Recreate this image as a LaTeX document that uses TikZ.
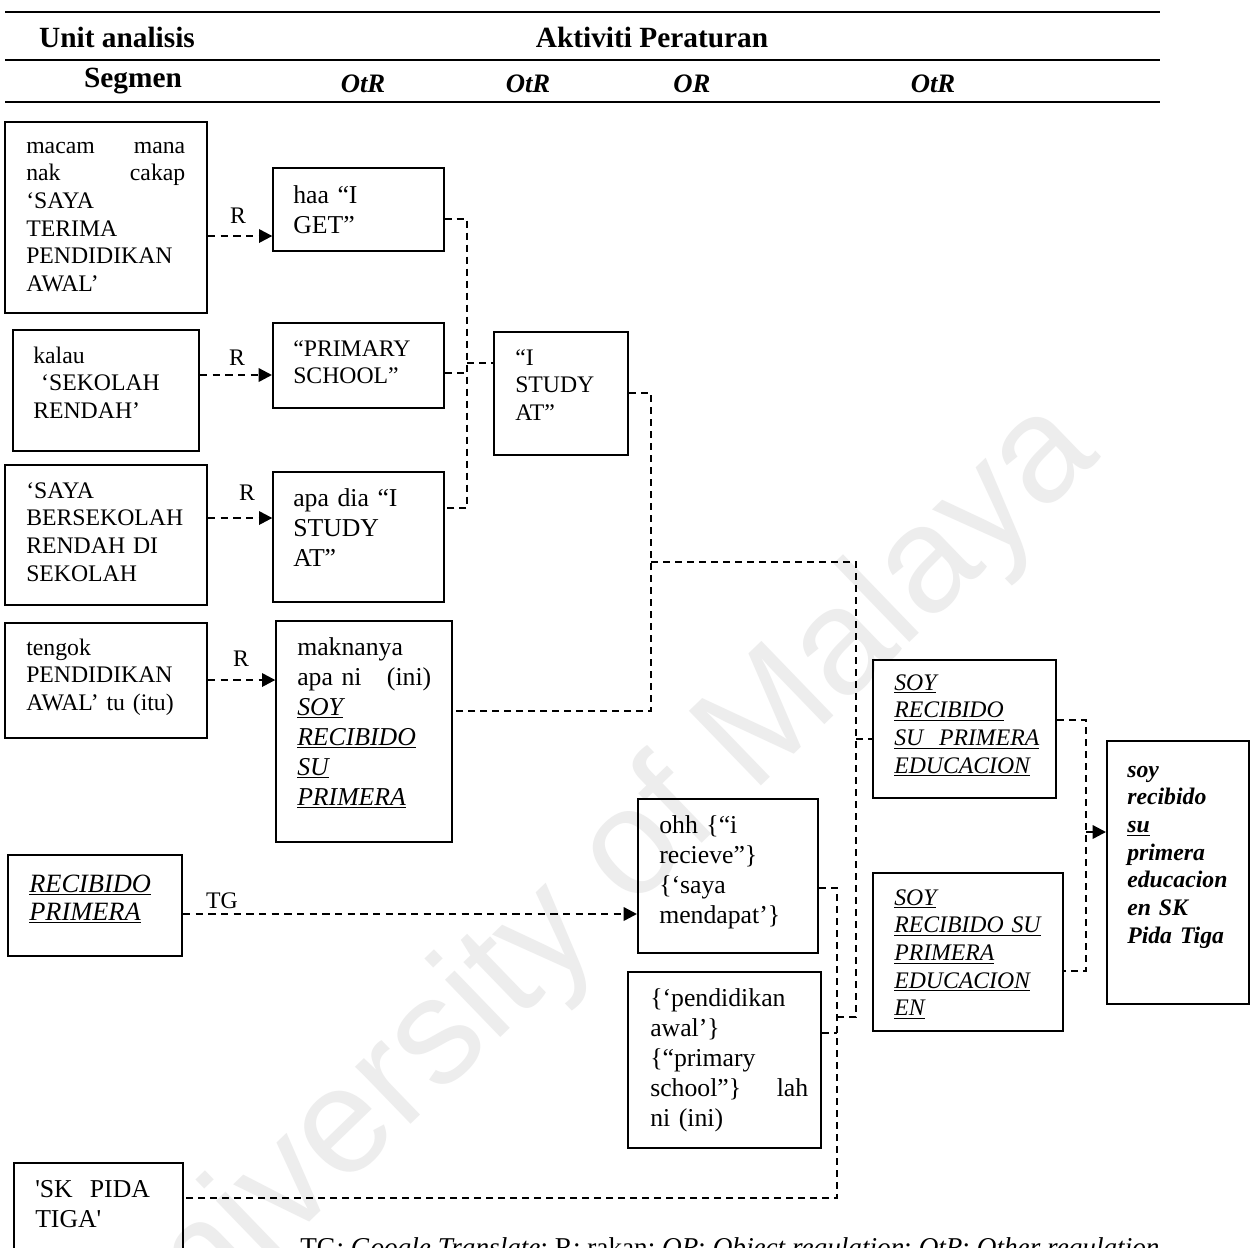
\documentclass[tikz,border=0pt]{standalone}
\usepackage{fontspec}
\setmainfont{Liberation Serif}
\newfontfamily\wmfont{Liberation Sans}
\usetikzlibrary{arrows.meta,calc}

% text sizes
\newcommand\fs{\fontsize{17.8}{20.8}\selectfont}
\newcommand\fsw{\fontsize{19.3}{22.5}\selectfont}
\newcommand\fsh{\fontsize{22}{24}\selectfont\bfseries}
\newcommand\fsc{\fontsize{20}{22}\selectfont\bfseries\itshape}
% underline at a fixed depth below the baseline
\newcommand\uln[1]{\leavevmode\setbox0\hbox{#1}\rlap{\rule[-2.4pt]{\wd0}{0.75pt}}\box0}

\tikzset{
  x=0.75pt, y=-0.75pt,
  boxthick/.style={draw, line width=1.5pt, inner sep=0pt},
  boxthin/.style={draw, line width=1pt, inner sep=0pt},
  txt/.style={inner sep=0pt, anchor=base west, align=left, font=\fs},
  txtw/.style={txt, font=\fsw},
  lbl/.style={inner sep=0pt, anchor=base, font=\fs},
  head/.style={inner sep=0pt, font=\fsh},
  colhead/.style={inner sep=0pt, font=\fsc},
  rule/.style={line width=1.9pt},
  rarrow/.style={line width=1.8pt, dash pattern=on 5.5pt off 4pt,
    -{Triangle[length=10pt,width=10pt]}},
  link/.style={line width=1.2pt, dash pattern=on 5.5pt off 3.5pt},
  tiparrow/.style={line width=1.8pt, -{Triangle[length=10pt,width=10pt]}},
}

% \bx{style}{name}{x1}{y1}{x2}{y2}
\newcommand\bx[6]{%
  \node[#1, minimum width={(#5-#3)*0.75pt}, minimum height={(#6-#4)*0.75pt}]
    (#2) at ({(#3+#5)/2},{(#4+#6)/2}) {};}

\begin{document}
\begin{tikzpicture}
\useasboundingbox[fill=white] (0,0) rectangle (1257,1247);

% repository watermark
\node[rotate=44, text=black!7, font=\wmfont\fontsize{113}{118}\selectfont, inner sep=0pt]
  (wm) at (587,900) {University of Malaya};

% table header
\draw[rule] (5,12) -- (1160,12);
\draw[rule] (5,60) -- (1160,60);
\draw[rule] (5,102) -- (1160,102);
\node[head] (h-unit) at (117,37) {Unit analisis};
\node[head] (h-akt) at (652,37) {Aktiviti Peraturan};
\node[head] (h-seg) at (133,81) {Segmen};
\node[colhead] (h-c1) at (363,84) {OtR};
\node[colhead] (h-c2) at (528,84) {OtR};
\node[colhead] (h-c3) at (692,84) {OR};
\node[colhead] (h-c4) at (933,84) {OtR};

% boxes
\bx{boxthick}{a1}{5}{122}{207}{313}
\bx{boxthick}{a2}{13}{330}{199}{451}
\bx{boxthick}{a3}{5}{465}{207}{605}
\bx{boxthick}{a4}{5}{623}{207}{738}
\bx{boxthin}{b1}{273}{168}{444}{251}
\bx{boxthick}{b2}{273}{323}{444}{408}
\bx{boxthin}{b3}{273}{472}{444}{602}
\bx{boxthin}{b4}{276}{621}{452}{842}
\bx{boxthick}{c}{494}{332}{628}{455}
\bx{boxthick}{d1}{873}{660}{1056}{798}
\bx{boxthick}{d2}{873}{873}{1063}{1031}
\bx{boxthick}{e1}{638}{799}{818}{953}
\bx{boxthick}{e2}{628}{972}{821}{1148}
\bx{boxthick}{f}{8}{855}{182}{956}
\bx{boxthick}{g}{14}{1163}{183}{1275}
\bx{boxthick}{h}{1107}{741}{1249}{1004}

% box texts
\node[txt, text width=119.25pt] (t-a1) at (26,153)
  {macam\hfill mana\\ nak\hfill cakap\\ ‘SAYA\\ TERIMA\\ PENDIDIKAN\\ AWAL’};
\node[txt, text width=130pt] (t-a2) at (33,363)
  {kalau\\ \ ‘SEKOLAH\\ RENDAH’};
\node[txt, text width=140pt] (t-a3) at (26,498)
  {‘SAYA\\ BERSEKOLAH\\ RENDAH DI\\ SEKOLAH};
\node[txt, text width=140pt] (t-a4) at (26,655)
  {tengok\\ PENDIDIKAN\\ AWAL’ tu (itu)};
\node[txtw, text width=120pt] (t-b1) at (293,203) {haa “I\\ GET”};
\node[txt, text width=120pt] (t-b2) at (293,356) {“PRIMARY\\ SCHOOL”};
\node[txtw, text width=120pt] (t-b3) at (293,506) {apa dia “I\\ STUDY\\ AT”};
\node[txtw, text width=100.5pt] (t-b4) at (297,655)
  {maknanya\\ apa ni\hfill (ini)\\ \textit{\uln{SOY}}\\ \textit{\uln{RECIBIDO}}\\
   \textit{\uln{SU}}\\ \textit{\uln{PRIMERA}}};
\node[txt, text width=90pt] (t-c) at (515,365) {“I\\ STUDY\\ AT”};
\node[txt, text width=125pt] (t-d1) at (894,690)
  {\itshape\uln{SOY}\\ \uln{RECIBIDO}\\ \uln{SU\ \ PRIMERA}\\ \uln{EDUCACION}};
\node[txt, text width=130pt] (t-d2) at (894,905)
  {\itshape\uln{SOY}\\ \uln{RECIBIDO SU}\\ \uln{PRIMERA}\\ \uln{EDUCACION}\\ \uln{EN}};
\node[txtw, text width=125pt] (t-e1) at (659,833)
  {ohh \{“i\\ recieve”\}\\ \{‘saya\\ mendapat’\}};
\node[txtw, text width=118.5pt] (t-e2) at (650,1006)
  {\{‘pendidikan\\ awal’\}\\ \{“primary\\ school”\}\hfill lah\\ ni (ini)};
\node[txt, text width=125pt, font=\fontsize{19.8}{21.2}\selectfont] (t-f) at (29,892)
  {\itshape\uln{RECIBIDO}\\ \uln{PRIMERA}};
\node[txtw, text width=120pt] (t-g) at (35,1197)
  {\textquotesingle SK\ \ PIDA\\ TIGA\textquotesingle};
\node[txt, text width=100pt] (t-h) at (1127,777)
  {\bfseries\itshape soy\\ recibido\\ \uln{su}\\ primera\\ educacion\\ en SK\\ Pida Tiga};

% R and TG arrows
\draw[rarrow] (a1.east |- 0,236) -- (b1.west |- 0,236);
\draw[rarrow] (a2.east |- 0,375) -- (b2.west |- 0,375);
\draw[rarrow] (a3.east |- 0,518) -- (b3.west |- 0,518);
\draw[rarrow] (a4.east |- 0,680) -- (b4.west |- 0,680);
\draw[rarrow] (f.east |- 0,914) -- (e1.west |- 0,914);
\node[lbl] (r1) at (238,223) {R};
\node[lbl] (r2) at (237,365) {R};
\node[lbl] (r3) at (247,500) {R};
\node[lbl] (r4) at (241,666) {R};
\node[lbl] (tg) at (222,908) {TG};

% junction points of the linking lines
\coordinate (k1t) at (467,219);
\coordinate (k1m) at (467,373);
\coordinate (k1c) at (467,363);
\coordinate (k1b) at (467,508);
\coordinate (k2t) at (651,393);
\coordinate (k2m) at (651,562);
\coordinate (k2b) at (651,711);
\coordinate (k3t) at (856,562);
\coordinate (k3d) at (856,739);
\coordinate (k3b) at (856,1017);
\coordinate (k4t) at (837,888);
\coordinate (k4j) at (837,1017);
\coordinate (k4e) at (837,1033);
\coordinate (k4b) at (837,1198);
\coordinate (k5t) at (1086,720);
\coordinate (k5m) at (1086,832);
\coordinate (k5b) at (1086,971);

\draw[link] (b1.east |- k1t) -- (k1t) -- (k1b) -- (b3.east |- k1b);
\draw[link] (b2.east |- k1m) -- (k1m);
\draw[link] (k1c) -- (c.west |- k1c);
\draw[link] (c.east |- k2t) -- (k2t) -- (k2b) -- (b4.east |- k2b);
\draw[link] (k2m) -- (k3t) -- (k3b) -- (k4j);
\draw[link] (k3d) -- (d1.west |- k3d);
\draw[link] (e1.east |- k4t) -- (k4t) -- (k4b) -- (g.east |- k4b);
\draw[link] (e2.east |- k4e) -- (k4e);
\draw[link] (d1.east |- k5t) -- (k5t) -- (k5b) -- (d2.east |- k5b);
\draw[tiparrow] (k5m) -- (h.west |- k5m);

% legend
\node[inner sep=0pt, anchor=base west, font=\fontsize{20.4}{22}\selectfont] (legend) at (300,1256)
  {TG: \textit{Google Translate}; R: rakan; \textit{OR}: \textit{Object regulation}; \textit{OtR}: \textit{Other regulation}};
\end{tikzpicture}
\end{document}
